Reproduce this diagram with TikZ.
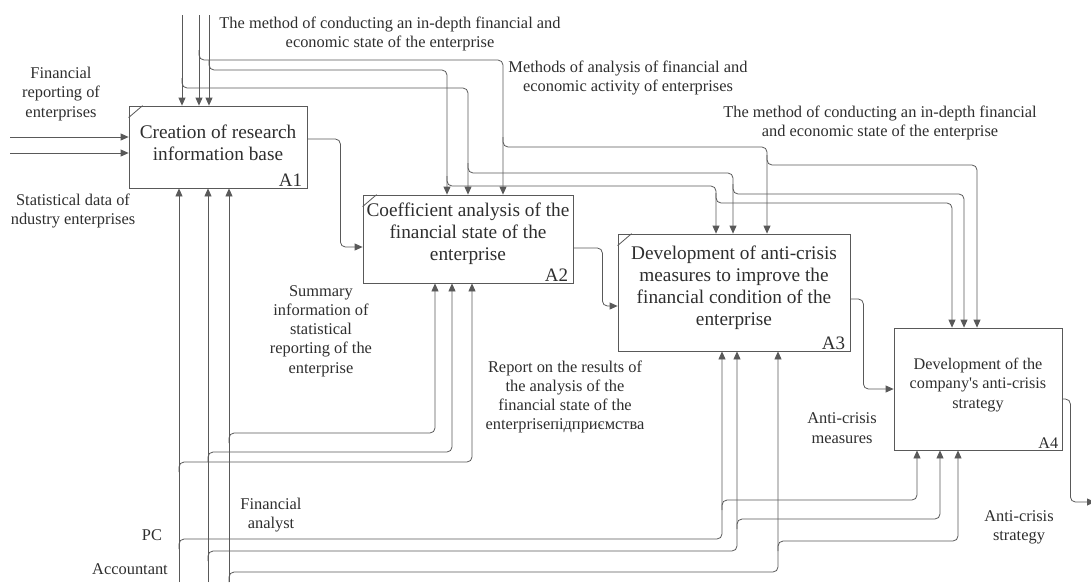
\documentclass[tikz,border=0pt]{standalone}
\usepackage{fontspec}
\setmainfont{Liberation Serif}
\usetikzlibrary{arrows.meta}
\definecolor{lnc}{gray}{0.35}
\definecolor{txc}{gray}{0.18}

\begin{document}
\begin{tikzpicture}[x=1pt,y=-1pt,
	box/.style={draw=lnc,line width=0.8pt,text=txc,align=center,inner sep=0pt,text depth=14pt,font=\fontsize{19.3}{22}\selectfont},
	lbl/.style={text=txc,align=center,inner sep=0pt,font=\fontsize{16.4}{19.3}\selectfont},
	num/.style={text=txc,inner sep=0pt,anchor=south east,font=\fontsize{19}{22}\selectfont},
	flow/.style={draw=lnc,line width=0.8pt,rounded corners=5pt,-{Triangle[length=8pt,width=7pt]}},
	notch/.style={draw=lnc,line width=0.8pt}]
	\useasboundingbox (0,0) rectangle (1091,582);
	% activity boxes
	\node[box,minimum width=178pt,minimum height=82pt,text depth=9pt] (A1) at (218,147) {Creation of research\\information base};
	\node[box,minimum width=210pt,minimum height=88pt] (A2) at (468,239) {Coefficient analysis of the\\financial state of the\\enterprise};
	\node[box,minimum width=232pt,minimum height=117pt] (A3) at (734,292.5) {Development of anti-crisis\\measures to improve the\\financial condition of the\\enterprise};
	\node[box,minimum width=168pt,minimum height=122pt,text depth=12pt,font=\fontsize{16.2}{19.5}\selectfont] (A4) at (978,389) {Development of the\\company\textquotesingle s anti-crisis\\strategy};
	\node[num] (n1) at ([xshift=-5pt,yshift=2pt]A1.south east) {A1};
	\node[num] (n2) at ([xshift=-5pt,yshift=2pt]A2.south east) {A2};
	\node[num] (n3) at ([xshift=-5pt,yshift=2pt]A3.south east) {A3};
	\node[num,font=\fontsize{16.2}{19}\selectfont] (n4) at ([xshift=-4pt,yshift=2pt]A4.south east) {A4};
	\draw[notch] ([yshift=-12pt]A1.north west) -- ([xshift=14pt]A1.north west);
	\draw[notch] ([yshift=-12pt]A2.north west) -- ([xshift=14pt]A2.north west);
	\draw[notch] ([yshift=-12pt]A3.north west) -- ([xshift=14pt]A3.north west);
	% free ends
	\coordinate (top1) at (182,15);
	\coordinate (top2) at (199,15);
	\coordinate (top3) at (209,15);
	\coordinate (in1) at (10,137);
	\coordinate (in2) at (10,153);
	\coordinate (bot1) at (179,582);
	\coordinate (bot2) at (208,582);
	\coordinate (bot3) at (229,582);
	\coordinate (out) at (1095,502);
	% controls
	\draw[flow] (top1) -- (top1 |- A1.north);
	\draw[flow] (top2) -- (top2 |- A1.north);
	\draw[flow] (top3) -- (top3 |- A1.north);
	\draw[flow] (182,78) |- (468,88) -- (468,88 |- A2.north);
	\draw[flow] (199,50) |- (503,60) -- (503,60 |- A2.north);
	\draw[flow] (209,60) |- (447,70) -- (447,70 |- A2.north);
	\draw[flow] (503,137) |- (767,147) -- (767,147 |- A3.north);
	\draw[flow] (468,163) |- (733,173) -- (733,173 |- A3.north);
	\draw[flow] (447,176) |- (716,186) -- (716,186 |- A3.north);
	\draw[flow] (767,155) |- (977,165) -- (977,165 |- A4.north);
	\draw[flow] (733,184) |- (964,194) -- (964,194 |- A4.north);
	\draw[flow] (716,193) |- (952,203) -- (952,203 |- A4.north);
	% inputs and outputs
	\draw[flow] (in1) -- (in1 -| A1.west);
	\draw[flow] (in2) -- (in2 -| A1.west);
	\draw[flow] ([yshift=8pt]A1.east) -- ++(33,0) |- ([yshift=-8pt]A2.west);
	\draw[flow] ([yshift=-9pt]A2.east) -- ++(29,0) |- ([yshift=-13.5pt]A3.west);
	\draw[flow] ([yshift=-6.5pt]A3.east) -- ++(13,0) |- (A4.west);
	\draw[flow] ([yshift=-10pt]A4.east) -- ++(8,0) |- (out);
	% mechanisms
	\draw[flow] (bot1) -- (bot1 |- A1.south);
	\draw[flow] (bot2) -- (bot2 |- A1.south);
	\draw[flow] (bot3) -- (bot3 |- A1.south);
	\draw[flow] (179,472) |- (472,462) -- (472,462 |- A2.south);
	\draw[flow] (208,462) |- (452,452) -- (452,452 |- A2.south);
	\draw[flow] (229,443) |- (435,433) -- (435,433 |- A2.south);
	\draw[flow] (179,549) |- (722,539) -- (722,539 |- A3.south);
	\draw[flow] (208,561) |- (737,551) -- (737,551 |- A3.south);
	\draw[flow] (229,582) |- (778,572) -- (778,572 |- A3.south);
	\draw[flow] (722,510) |- (917,500) -- (917,500 |- A4.south);
	\draw[flow] (737,529) |- (940,519) -- (940,519 |- A4.south);
	\draw[flow] (778,551) |- (958,541) -- (958,541 |- A4.south);
	% labels
	\node[lbl] (ctlA) at (390,34) {The method of conducting an in-depth financial and\\economic state of the enterprise};
	\node[lbl] (ctlB) at (628,78) {Methods of analysis of financial and\\economic activity of enterprises};
	\node[lbl] (ctlC) at (880,123) {The method of conducting an in-depth financial\\and economic state of the enterprise};
	\node[lbl] (inA) at (61,94) {Financial\\reporting of\\enterprises};
	\node[lbl] (inB) at (73,211) {Statistical data of\\ndustry enterprises};
	\node[lbl] (sumInfo) at (321,331) {Summary\\information of\\statistical\\reporting of the\\enterprise};
	\node[lbl] (report) at (565,397) {Report on the results of\\the analysis of the\\financial state of the\\enterpriseпідприємства};
	\node[lbl] (measures) at (842,428) {Anti-crisis\\measures};
	\node[lbl] (strategy) at (1019,527) {Anti-crisis\\strategy};
	\node[lbl] (analyst) at (271,515) {Financial\\analyst};
	\node[lbl] (pc) at (152,535) {PC};
	\node[lbl] (accountant) at (130,569) {Accountant};
\end{tikzpicture}
\end{document}
